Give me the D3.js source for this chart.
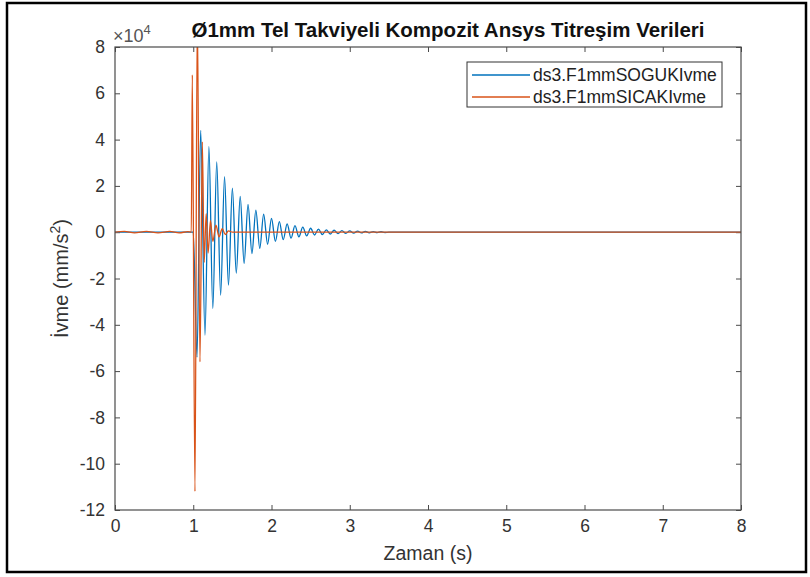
<!DOCTYPE html>
<html>
<head>
<meta charset="utf-8">
<script src="https://cdn.jsdelivr.net/npm/d3@7"></script>
<style>
    body { margin: 0; background: #fff; }
    svg { font-family: 'Liberation Sans', Arial, sans-serif; }
</style>
</head>
<body>
<svg id="chart" width="810" height="577"></svg>
<script>
// values (mm/s^2, axis shown as x 10^4)
const xTicks = [0, 1, 2, 3, 4, 5, 6, 7, 8];
const yTicks = [-120000, -100000, -80000, -60000, -40000, -20000, 0, 20000, 40000, 60000, 80000];

const sogukTime = [0, 1.0, 1.048, 1.095, 1.15, 1.2, 1.25, 1.3, 1.35, 1.4, 1.45, 1.5, 1.55, 1.6, 1.65, 1.7,
    1.75, 1.8, 1.85, 1.9, 1.95, 2.0, 2.05, 2.1, 2.15, 2.2, 2.25, 2.3, 2.35, 2.4, 2.45, 2.5, 2.55, 2.6,
    2.65, 2.7, 2.75, 2.8, 2.85, 2.9, 2.95, 3.0, 3.05, 3.1, 3.15, 3.2, 3.25, 3.3, 3.35, 3.4, 3.45, 3.5, 8];
const sogukIvme = [0, 0, -54000, 44000, -44500, 37000, -33000, 30400, -27200, 24000, -22900, 19000, -17700, 15500, -13500, 12000,
    -9200, 9500, -7000, 7800, -5200, 6000, -4000, 4600, -3200, 3600, -2600, 2800, -2000, 2200, -1600, 1700, -1200, 1300,
    -1000, 1000, -800, 850, -650, 700, -500, 550, -400, 450, -320, 350, -250, 280, -180, 200, -120, 0, 0];

const sicakTime = [0, 0.12, 0.25, 0.4, 0.55, 0.7, 0.82, 0.93, 0.975, 0.988, 1.022, 1.052, 1.086, 1.116, 1.14,
    1.165, 1.19, 1.22, 1.25, 1.29, 1.33, 1.37, 1.41, 1.45, 1.5, 8];
const sicakIvme = [0, 350, -300, 350, -300, 350, -300, 250, 0, 68000, -112000, 95000, -56000, 39000, -13000,
    8000, -9000, 5000, -4000, 3000, -2000, 1500, -1000, 600, 0, 0];

const seriesNames = ['ds3.F1mmSOGUKIvme', 'ds3.F1mmSICAKIvme'];
const seriesColors = ['#0072BD', '#D95319'];

const margin = { left: 115, top: 47, right: 69, bottom: 67 };
const svg = d3.select('#chart');
const width = 810 - margin.left - margin.right;
const height = 577 - margin.top - margin.bottom;

// outer frame of the screenshot
svg.append('rect')
    .attr('x', 7).attr('y', 3).attr('width', 799).attr('height', 569)
    .attr('fill', 'none').attr('stroke', '#000').attr('stroke-width', 2.5);

const x = d3.scaleLinear().domain([0, 8]).range([0, width]);
const y = d3.scaleLinear().domain([-120000, 80000]).range([height, 0]);

const g = svg.append('g').attr('transform', `translate(${margin.left}, ${margin.top})`);

g.append('clipPath').attr('id', 'clip')
    .append('rect').attr('width', width).attr('height', height);

const axisColor = '#4a4a4a';
const fmtY = d => d / 10000;

function styleAxis(sel, showText) {
    sel.select('.domain').remove();
    sel.selectAll('.tick line').attr('stroke', axisColor).attr('stroke-width', 1);
    sel.selectAll('.tick text')
        .attr('fill', '#333')
        .style('font-size', '17.5px')
        .style('display', showText ? null : 'none');
}

g.append('g')
    .attr('transform', `translate(0, ${height})`)
    .call(d3.axisBottom(x).tickValues(xTicks).tickSizeInner(-5).tickSizeOuter(0).tickPadding(10))
    .call(s => styleAxis(s, true));

g.append('g')
    .call(d3.axisTop(x).tickValues(xTicks).tickSizeInner(-5).tickSizeOuter(0))
    .call(s => styleAxis(s, false));

g.append('g')
    .call(d3.axisLeft(y).tickValues(yTicks).tickFormat(fmtY).tickSizeInner(-5).tickSizeOuter(0).tickPadding(10))
    .call(s => styleAxis(s, true));

g.append('g')
    .attr('transform', `translate(${width}, 0)`)
    .call(d3.axisRight(y).tickValues(yTicks).tickSizeInner(-5).tickSizeOuter(0))
    .call(s => styleAxis(s, false));

const line = d3.line()
    .x(d => x(d[0]))
    .y(d => y(d[1]))
    .curve(d3.curveMonotoneX);

const series = [
    d3.zip(sogukTime, sogukIvme),
    d3.zip(sicakTime, sicakIvme)
];

g.append('g').attr('clip-path', 'url(#clip)')
    .selectAll('path')
    .data(series)
    .enter()
    .append('path')
    .attr('d', line)
    .attr('fill', 'none')
    .attr('stroke', (d, i) => seriesColors[i])
    .attr('stroke-width', 1.3);

// box
g.append('rect')
    .attr('width', width).attr('height', height)
    .attr('fill', 'none').attr('stroke', axisColor).attr('stroke-width', 1.2);

// exponent label
const exp = svg.append('text')
    .attr('x', margin.left - 2).attr('y', 42)
    .attr('fill', '#555')
    .style('font-size', '18px');
exp.append('tspan').text('\u00d710');
exp.append('tspan').attr('dy', -8).style('font-size', '13px').text('4');

svg.append('text')
    .attr('x', 448).attr('y', 37)
    .attr('text-anchor', 'middle')
    .attr('fill', '#111')
    .style('font-size', '20.5px')
    .style('font-weight', 'bold')
    .text('Ø1mm Tel Takviyeli Kompozit Ansys Titreşim Verileri');

svg.append('text')
    .attr('x', margin.left + width / 2).attr('y', 560)
    .attr('text-anchor', 'middle')
    .attr('fill', '#333')
    .style('font-size', '19.5px')
    .text('Zaman (s)');

const yl = svg.append('text')
    .attr('transform', `translate(68, ${margin.top + height / 2}) rotate(-90)`)
    .attr('text-anchor', 'middle')
    .attr('fill', '#333')
    .style('font-size', '20px');
yl.append('tspan').text('İvme (mm/s');
yl.append('tspan').attr('dy', -8).style('font-size', '14px').text('2');
yl.append('tspan').attr('dy', 8).text(')');

// legend
const legend = svg.append('g').attr('transform', 'translate(467, 62)');
legend.append('rect')
    .attr('width', 255).attr('height', 45)
    .attr('fill', '#fff').attr('stroke', '#333').attr('stroke-width', 1);

const rows = legend.selectAll('g.row')
    .data(seriesNames)
    .enter()
    .append('g')
    .attr('class', 'row')
    .attr('transform', (d, i) => `translate(0, ${13 + i * 22})`);

rows.append('line')
    .attr('x1', 5).attr('x2', 63)
    .attr('stroke', (d, i) => seriesColors[i])
    .attr('stroke-width', 1.3);

rows.append('text')
    .attr('x', 66).attr('y', 6)
    .attr('fill', '#222')
    .style('font-size', '17.5px')
    .text(d => d);
</script>
</body>
</html>
